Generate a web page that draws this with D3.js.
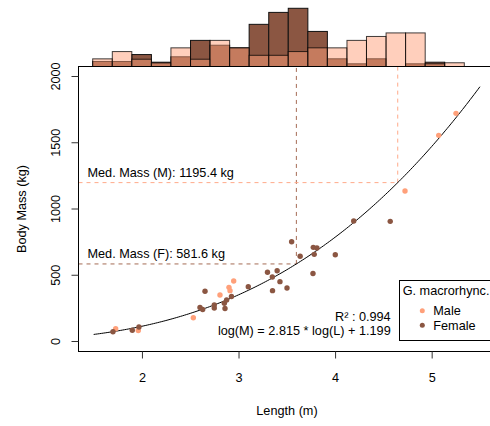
<!DOCTYPE html>
<html>
<head>
<meta charset="utf-8">
<script src="https://cdn.jsdelivr.net/npm/d3@7"></script>
<style>
  html, body { margin: 0; padding: 0; background: #fff; }
  svg { display: block; font-family: "Liberation Sans", Arial, Helvetica, sans-serif; }
</style>
</head>
<body>
<svg id="chart" width="490" height="426"></svg>
<script>
// ---- Data ----
const maleLength = [1.728, 1.962, 2.532, 2.808, 2.901, 2.912, 2.950, 4.724, 5.073, 5.252];
const maleMass   = [93, 79, 175, 347, 405, 380, 453, 1132, 1552, 1718];

const femaleLength = [1.700, 1.900, 1.969, 2.601, 2.629, 2.653, 2.749, 2.749, 2.853, 2.860,
                      2.877, 2.927, 3.101, 3.300, 3.350, 3.400, 3.352, 3.429, 3.502, 3.550,
                      3.638, 3.774, 3.812, 3.784, 3.771, 4.002, 4.193, 4.571];
const femaleMass   = [70, 81, 106, 253, 238, 376, 273, 249, 285, 245,
                      309, 336, 410, 519, 483, 530, 380, 448, 400, 749,
                      640, 707, 702, 654, 509, 651, 906, 903];

// histogram of lengths (relative heights), shared breaks
const histBreaks = [1.490, 1.693, 1.895, 2.098, 2.300, 2.503, 2.705, 2.908, 3.110, 3.313,
                    3.515, 3.718, 3.920, 4.123, 4.325, 4.528, 4.730, 4.933, 5.135, 5.338];
const maleHist   = [2.05, 4.0, 1.95, 0.95, 5.0, 1.95, 7.0, 5.0, 3.0, 3.0,
                    4.0, 5.0, 5.0, 7.0, 8.05, 9.0, 9.0, 0.72, 1.0];
const femaleHist = [1.34, 1.34, 3.2, 1.15, 2.6, 7.0, 5.7, 5.0, 11.3, 14.5,
                    15.6, 9.4, 2.06, 0.72, 2.06, 0, 0.72, 1.15, 0];

// regression: log10(M) = slope * log10(L) + intercept
const fitSlope = 2.815, fitIntercept = 1.199, fitR2 = 0.994;
const fitRange = [1.5, 5.5];
const medMassF = 581.6, medMassM = 1195.4;

const xTicks = [2, 3, 4, 5];
const yTicks = [0, 500, 1000, 1500, 2000];

const colMale = "#FFA07A", colFemale = "#8B5642";

(function draw() {
const svg = d3.select("#chart");
const pLeft = 78.5, pRight = 495.5, pTop = 66.5, pBottom = 351.5;

const x = d3.scaleLinear().domain([1.343, 5.661]).range([pLeft, pRight]);
const y = d3.scaleLinear().domain([-79.2, 2071.7]).range([pBottom, pTop]);
const hy = d3.scaleLinear().domain([0, 16]).range([pTop, pTop - 59.7]);

const fitMass = L => Math.pow(10, fitSlope * Math.log10(L) + fitIntercept);
const medL = M => Math.pow(10, (Math.log10(M) - fitIntercept) / fitSlope);

// ---- Histograms ----
const bins = d3.range(maleHist.length).map(i => ({x0: histBreaks[i], x1: histBreaks[i+1], m: maleHist[i], f: femaleHist[i]}));
const hg = svg.append("g");
hg.selectAll("rect.f").data(bins.filter(d => d.f > 0)).join("rect")
  .attr("x", d => x(d.x0)).attr("width", d => x(d.x1) - x(d.x0))
  .attr("y", d => hy(d.f)).attr("height", d => hy(0) - hy(d.f))
  .attr("fill", colFemale).attr("stroke", "#111").attr("stroke-width", 1);
hg.selectAll("rect.m").data(bins.filter(d => d.m > 0)).join("rect")
  .attr("x", d => x(d.x0)).attr("width", d => x(d.x1) - x(d.x0))
  .attr("y", d => hy(d.m)).attr("height", d => hy(0) - hy(d.m))
  .attr("fill", "rgba(255,160,122,0.5)").attr("stroke", "rgba(0,0,0,0.75)").attr("stroke-width", 1);

// ---- Median lines ----
const dash = "4,4";
const lf = medL(medMassF), lm = medL(medMassM);
svg.append("line").attr("x1", pLeft).attr("x2", x(lf)).attr("y1", y(medMassF)).attr("y2", y(medMassF))
  .attr("stroke", "#A56B55").attr("stroke-dasharray", dash);
svg.append("line").attr("x1", x(lf)).attr("x2", x(lf)).attr("y1", y(medMassF)).attr("y2", pTop)
  .attr("stroke", "#A56B55").attr("stroke-dasharray", dash);
svg.append("line").attr("x1", pLeft).attr("x2", x(lm)).attr("y1", y(medMassM)).attr("y2", y(medMassM))
  .attr("stroke", "#FFAA8A").attr("stroke-dasharray", dash);
svg.append("line").attr("x1", x(lm)).attr("x2", x(lm)).attr("y1", y(medMassM)).attr("y2", pTop)
  .attr("stroke", "#FFAA8A").attr("stroke-dasharray", dash);

const fs = "12.7px";
svg.append("text").attr("x", 87.5).attr("y", y(medMassM) - 5.5).attr("font-size", fs)
  .text("Med. Mass (M): " + medMassM.toFixed(1) + " kg");
svg.append("text").attr("x", 87.5).attr("y", y(medMassF) - 5.5).attr("font-size", fs)
  .text("Med. Mass (F): " + medMassF.toFixed(1) + " kg");

// ---- Fit curve ----
const curvePts = d3.range(0, 201).map(i => fitRange[0] + (fitRange[1] - fitRange[0]) * i / 200);
svg.append("path").datum(curvePts)
  .attr("d", d3.line().x(L => x(L)).y(L => y(fitMass(L))))
  .attr("fill", "none").attr("stroke", "#000").attr("stroke-width", 1);

// ---- Points ----
svg.append("g").selectAll("circle").data(maleLength.map((L, i) => [L, maleMass[i]])).join("circle")
  .attr("cx", d => x(d[0])).attr("cy", d => y(d[1])).attr("r", 2.7).attr("fill", colMale);
svg.append("g").selectAll("circle").data(femaleLength.map((L, i) => [L, femaleMass[i]])).join("circle")
  .attr("cx", d => x(d[0])).attr("cy", d => y(d[1])).attr("r", 2.7).attr("fill", colFemale);

// ---- Fit text ----
svg.append("text").attr("x", 390.7).attr("y", 321.3).attr("text-anchor", "end").attr("font-size", fs)
  .text("R² : " + fitR2.toFixed(3));
svg.append("text").attr("x", 390.7).attr("y", 334.5).attr("text-anchor", "end").attr("font-size", fs)
  .text("log(M) = " + fitSlope + " * log(L) + " + fitIntercept);

// ---- Frame & axes ----
svg.append("rect").attr("x", pLeft).attr("y", pTop).attr("width", pRight - pLeft).attr("height", pBottom - pTop)
  .attr("fill", "none").attr("stroke", "#000").attr("stroke-width", 1);

const xAxis = svg.append("g").attr("transform", `translate(0,${pBottom})`)
  .call(d3.axisBottom(x).tickValues(xTicks).tickSize(7).tickFormat(d3.format("d")));
xAxis.select(".domain").remove();
xAxis.selectAll("text").attr("font-size", fs).attr("font-family", null).attr("dy", null).attr("y", 30.2);
xAxis.selectAll("line").attr("stroke", "#333");

const yAxis = svg.append("g").attr("transform", `translate(${pLeft},0)`)
  .call(d3.axisLeft(y).tickValues(yTicks).tickSize(7).tickFormat(d3.format("d")));
yAxis.select(".domain").remove();
yAxis.selectAll("line").attr("stroke", "#333");
yAxis.selectAll("text").attr("font-size", fs).attr("font-family", null)
  .attr("x", null).attr("dy", null).attr("text-anchor", "middle")
  .attr("transform", "translate(-18.8,0) rotate(-90)");

svg.append("text").attr("x", (pLeft + pRight) / 2).attr("y", 414.5).attr("text-anchor", "middle")
  .attr("font-size", fs).text("Length (m)");
svg.append("text").attr("transform", `translate(25.8,${(pTop + pBottom) / 2}) rotate(-90)`)
  .attr("text-anchor", "middle").attr("font-size", fs).text("Body Mass (kg)");

// ---- Legend ----
const lg = svg.append("g");
lg.append("rect").attr("x", 399.5).attr("y", 280.5).attr("width", 110).attr("height", 60)
  .attr("fill", "#fff").attr("stroke", "#000");
lg.append("text").attr("x", 402.7).attr("y", 295.3).attr("font-size", fs).text("G. macrorhync.");
const legItems = [["Male", colMale], ["Female", colFemale]];
legItems.forEach((d, i) => {
  lg.append("circle").attr("cx", 422.3).attr("cy", 310.7 + i * 14.6).attr("r", 2.5).attr("fill", d[1]);
  lg.append("text").attr("x", 433.3).attr("y", 315 + i * 14.8).attr("font-size", fs).text(d[0]);
});
})();
</script>
</body>
</html>
